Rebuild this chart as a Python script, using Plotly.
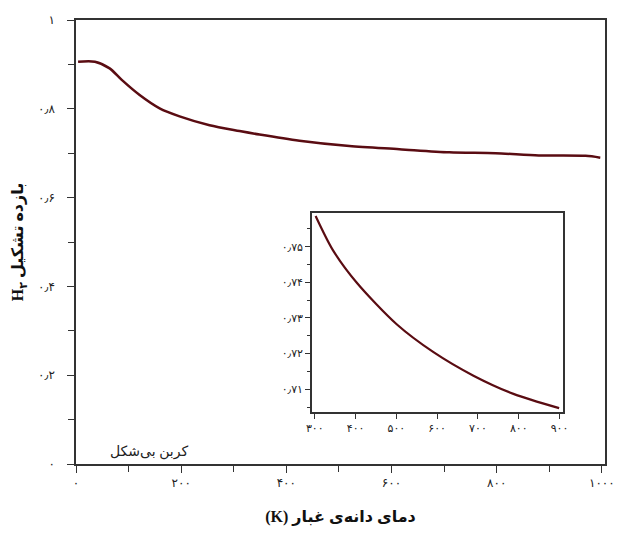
import plotly.graph_objects as go

# Main curve: H2 formation efficiency vs dust grain temperature (amorphous carbon)
main_T = [4, 36, 64, 87, 121, 159, 197, 254, 311, 349, 425, 520, 615, 710, 798, 880, 969, 997]
main_eff = [0.906, 0.906, 0.891, 0.865, 0.831, 0.801, 0.783, 0.763, 0.750, 0.742,
            0.728, 0.716, 0.709, 0.702, 0.700, 0.695, 0.694, 0.690]

# Inset (zoom of 300-900 K)
inset_T = [302, 344, 402, 500, 591, 689, 787, 899]
inset_eff = [0.7586, 0.7491, 0.7400, 0.7283, 0.7204, 0.7138, 0.7087, 0.7047]

# Tick labels (Persian digits)
main_x_vals = [0, 200, 400, 600, 800, 1000]
main_x_text = ["۰", "۲۰۰", "۴۰۰", "۶۰۰", "۸۰۰", "۱۰۰۰"]
main_y_vals = [0, 0.2, 0.4, 0.6, 0.8, 1.0]
main_y_text = ["۰", "۰٫۲", "۰٫۴", "۰٫۶", "۰٫۸", "۱"]
inset_x_vals = [300, 400, 500, 600, 700, 800, 900]
inset_x_text = ["۳۰۰", "۴۰۰", "۵۰۰", "۶۰۰", "۷۰۰", "۸۰۰", "۹۰۰"]
inset_y_vals = [0.71, 0.72, 0.73, 0.74, 0.75]
inset_y_text = ["۰٫۷۱", "۰٫۷۲", "۰٫۷۳", "۰٫۷۴", "۰٫۷۵"]

line_color = "#5a0c12"
axis_color = "#333333"
font_fam = "Liberation Serif, DejaVu Sans, serif"

fig = go.Figure()
fig.add_trace(go.Scatter(x=main_T, y=main_eff, mode="lines",
                         line=dict(color=line_color, width=2.5, shape="spline", smoothing=0.8),
                         xaxis="x", yaxis="y", showlegend=False))
fig.add_trace(go.Scatter(x=inset_T, y=inset_eff, mode="lines",
                         line=dict(color=line_color, width=2.2, shape="spline", smoothing=0.8),
                         xaxis="x2", yaxis="y2", showlegend=False))

common = dict(showline=True, linecolor=axis_color, linewidth=1.5, mirror=True,
              ticks="outside", tickcolor=axis_color, showgrid=False, zeroline=False,
              automargin=False, ticklabeloverflow="allow",
              tickfont=dict(family=font_fam, size=12, color="#222"))

fig.update_layout(
    width=617, height=540,
    margin=dict(l=76, r=12, t=20, b=76),
    paper_bgcolor="white", plot_bgcolor="white",
    font=dict(family=font_fam, color="#222"),
    xaxis=dict(**common, range=[0, 1006], tickvals=main_x_vals, ticktext=main_x_text,
               ticklen=7, tickwidth=1.2,
               minor=dict(dtick=100, tick0=0, ticks="outside", ticklen=6, tickcolor=axis_color),
               title=dict(text="<b>(K) دمای دانه‌ی غبار</b>", standoff=22,
                          font=dict(family=font_fam, size=16, color="#111"))),
    yaxis=dict(**common, range=[0, 1.0], tickvals=main_y_vals, ticktext=main_y_text,
               ticklen=7, tickwidth=1.2, ticklabelstandoff=10,
               minor=dict(dtick=0.1, tick0=0, ticks="outside", ticklen=6, tickcolor=axis_color),
               title=dict(text="<b>H<sub>۲</sub> بازده تشکیل</b>", standoff=10,
                          font=dict(family=font_fam, size=16, color="#111"))),
    xaxis2=dict(**common, domain=[0.446, 0.921], anchor="y2", range=[293, 909],
                tickvals=inset_x_vals, ticktext=inset_x_text, ticklen=5, tickwidth=1.2),
    yaxis2=dict(**common, domain=[0.117, 0.565], anchor="x2", range=[0.7036, 0.7594],
                tickvals=inset_y_vals, ticktext=inset_y_text, ticklen=5, tickwidth=1.2,
                minor=dict(dtick=0.005, tick0=0.70, ticks="outside", ticklen=3, tickcolor=axis_color)),
    annotations=[dict(text="کربن بی‌شکل", x=0.06, y=0.005, xref="paper", yref="paper",
                      xanchor="left", yanchor="bottom", showarrow=False,
                      font=dict(family=font_fam, size=14, color="#222"))],
)
fig.update_xaxes(tickfont=dict(size=11), selector=dict(anchor="y2"))
fig.update_yaxes(tickfont=dict(size=11), selector=dict(anchor="x2"))

fig.write_html("out.html")
